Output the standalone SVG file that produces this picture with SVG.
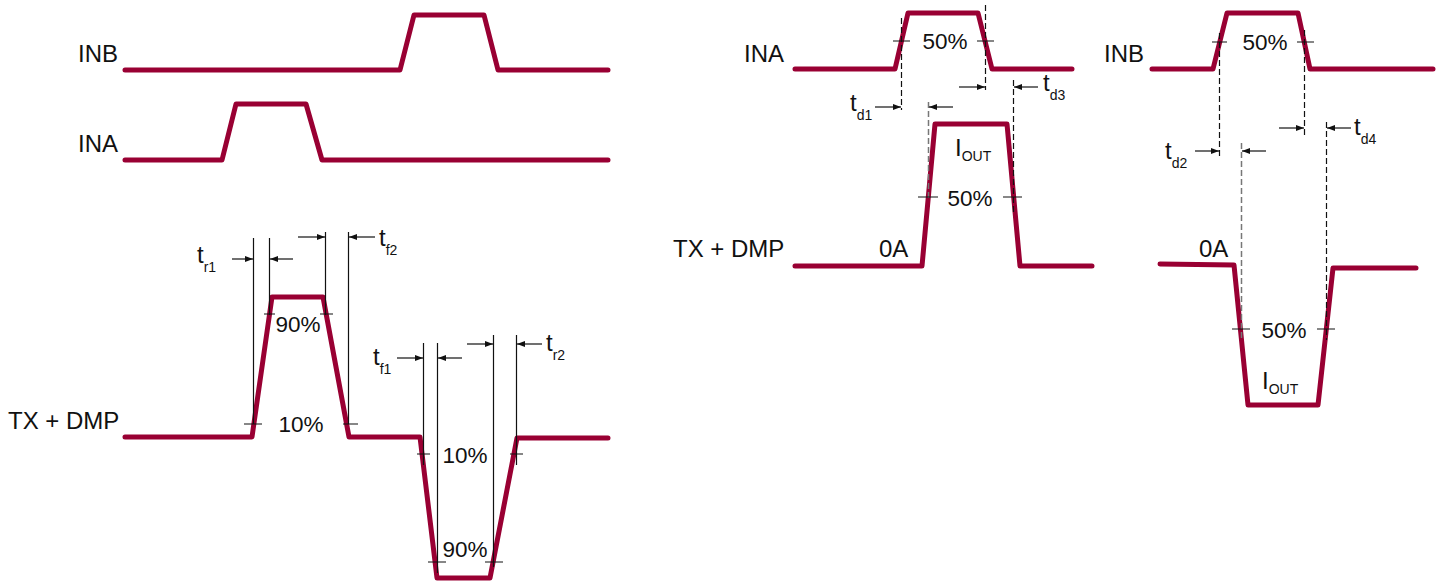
<svg xmlns="http://www.w3.org/2000/svg" width="1445" height="584" viewBox="0 0 1445 584">
<style>
.w{fill:none;stroke:#990033;stroke-width:5;stroke-linejoin:round;stroke-linecap:round}
.v{fill:none;stroke:#111;stroke-width:1.2}
.d{fill:none;stroke:#111;stroke-width:1.2;stroke-dasharray:6,3}
.dg{fill:none;stroke:#777;stroke-width:1.5;stroke-dasharray:6,3}
.t{stroke:#111;stroke-width:1.2}
.a{fill:none;stroke:#111;stroke-width:1.2;marker-end:url(#ah)}
text{font-family:"Liberation Sans",Arial,sans-serif;fill:#111}
.l{font-size:24px}
.p{font-size:22.5px;text-anchor:middle}
.s{font-size:14px}
</style>
<defs>
<marker id="ah" viewBox="0 0 8 6" refX="8" refY="3" markerWidth="8" markerHeight="6" markerUnits="userSpaceOnUse" orient="auto">
<path d="M0,0 L8,3 L0,6 Z" fill="#111"/>
</marker>
</defs>

<g id="left-inb">
<text class="l" x="78" y="62">INB</text>
<path class="w" d="M125,70 H400 L414,15 H484 L498,70 H608"/>
</g>
<g id="left-ina">
<text class="l" x="78" y="152">INA</text>
<path class="w" d="M125,160 H222 L236,104 H306 L322,160 H608"/>
</g>
<g id="left-tx">
<text class="l" x="8" y="429">TX + DMP</text>
<path class="w" d="M125,437 H252 L272,297 H323 L349,437 H420 L437,578 H490 L517,438 H608"/>
<text class="p" x="298" y="332">90%</text>
<text class="p" x="301" y="432">10%</text>
<text class="p" x="465" y="463">10%</text>
<text class="p" x="465" y="557">90%</text>
<text class="l" x="197" y="263">t<tspan class="s" dy="9">r1</tspan></text>
<text class="l" x="379" y="246">t<tspan class="s" dy="9">f2</tspan></text>
<text class="l" x="373" y="365">t<tspan class="s" dy="9">f1</tspan></text>
<text class="l" x="546" y="351">t<tspan class="s" dy="9">r2</tspan></text>
</g>

<g id="right-ina">
<text class="l" x="744" y="62">INA</text>
<path class="w" d="M795,69 H895 L908,13 H978 L992,69 H1072"/>
<text class="p" x="945" y="49">50%</text>
</g>
<g id="right-tx">
<text class="l" x="673" y="257">TX + DMP</text>
<path class="w" d="M795,266 H922 L935,124 H1007 L1020,266 H1092"/>
<text class="l" x="879" y="257">0A</text>
<text class="p" x="970" y="206">50%</text>
<text class="l" x="955" y="156">I<tspan class="s" dy="5">OUT</tspan></text>
<text class="l" x="850" y="111">t<tspan class="s" dy="9">d1</tspan></text>
<text class="l" x="1043" y="91">t<tspan class="s" dy="9">d3</tspan></text>
</g>

<g id="right2-inb">
<text class="l" x="1104" y="62">INB</text>
<path class="w" d="M1152,69 H1213 L1227,13 H1298 L1310,69 H1433"/>
<text class="p" x="1265" y="50">50%</text>
</g>
<g id="right2-tx">
<path class="w" d="M1160,264 L1234,265 L1248,405 H1318 L1333,268 H1416"/>
<text class="l" x="1199" y="257">0A</text>
<text class="p" x="1284" y="338">50%</text>
<text class="l" x="1262" y="389">I<tspan class="s" dy="5">OUT</tspan></text>
<text class="l" x="1165" y="159">t<tspan class="s" dy="9">d2</tspan></text>
<text class="l" x="1354" y="135">t<tspan class="s" dy="9">d4</tspan></text>
</g>

<g id="connectors">
<path class="v" d="M253.5,238 V424 M269.5,238 V315 M325.5,232 V315 M348.5,232 V424"/>
<path class="t" d="M264,314 H275 M320,314 H333 M244,424 H262 M343,424 H358"/>
<path class="a" d="M232,259 H253"/>
<path class="a" d="M293,259 H270"/>
<path class="a" d="M298,237 H325"/>
<path class="a" d="M375,237 H349"/>
<path class="v" d="M423.5,343 V465 M437.5,343 V573 M493.5,335 V567 M516.5,335 V465"/>
<path class="t" d="M417,454 H430 M510,454 H523 M428,562 H446 M485,562 H503"/>
<path class="a" d="M397,358 H423"/>
<path class="a" d="M462,358 H438"/>
<path class="a" d="M467,344 H493"/>
<path class="a" d="M542,344 H517"/>
<path class="d" d="M901.5,18 V110 M985.5,5 V90 M1013.5,80 V212"/>
<path class="dg" d="M928.5,102 V200"/>
<path class="t" d="M893,41 H910 M977,41 H994 M918,197 H938 M1003,197 H1022"/>
<path class="a" d="M875,107 H901"/>
<path class="a" d="M953,107 H929"/>
<path class="a" d="M959,87 H985"/>
<path class="a" d="M1038,87 H1014"/>
<path class="d" d="M1219.5,33 V158 M1304.5,30 V137 M1326.5,122 V340"/>
<path class="dg" d="M1241.5,143 V340"/>
<path class="t" d="M1212,42 H1227 M1297,42 H1314 M1232,329 H1250 M1317,329 H1335"/>
<path class="a" d="M1195,151 H1219"/>
<path class="a" d="M1266,151 H1242"/>
<path class="a" d="M1279,128 H1304"/>
<path class="a" d="M1351,128 H1327"/>
</g>
</svg>
